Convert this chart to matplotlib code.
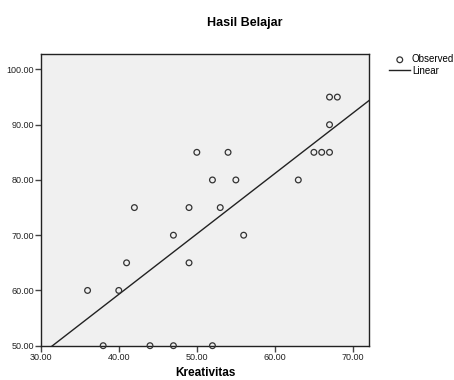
import matplotlib
matplotlib.use("Agg")
import matplotlib.pyplot as plt
import numpy as np

kreativitas = [36, 38, 40, 41, 42, 44, 47, 47, 49, 49, 50, 52, 52, 53, 54, 55, 56, 63, 65, 66, 67, 67, 67, 68]
hasil_belajar = [60, 50, 60, 65, 75, 50, 70, 50, 65, 75, 85, 80, 50, 75, 85, 80, 70, 80, 85, 85, 85, 90, 95, 95]
x_ticks = [30, 40, 50, 60, 70]
y_ticks = [50, 60, 70, 80, 90, 100]

plt.rcParams['font.family'] = ['Liberation Sans', 'DejaVu Sans']

fig = plt.figure(figsize=(4.54, 3.8), dpi=100)
ax = fig.add_axes([0.0897, 0.0903, 0.7238, 0.7676])
ax.set_facecolor('#f0f0f0')

x = np.array(kreativitas, dtype=float)
y = np.array(hasil_belajar, dtype=float)
slope, intercept = np.polyfit(x, y, 1)

xmin, xmax = 30, 72.1
ymin, ymax = 50, 102.8
xl = np.array([xmin, xmax])
line, = ax.plot(xl, intercept + slope * xl, color='#222222', lw=1.0, zorder=2, clip_on=True)
pts = ax.scatter(x, y, s=17, facecolors='none', edgecolors='#333333', linewidths=0.9, zorder=3, clip_on=False)

ax.set_xlim(xmin, xmax)
ax.set_ylim(ymin, ymax)
ax.set_xticks(x_ticks)
ax.set_xticklabels([f"{v:.2f}" for v in x_ticks])
ax.set_yticks(y_ticks)
ax.set_yticklabels([f"{v:.2f}" for v in y_ticks])
ax.tick_params(axis='both', direction='out', length=4, width=1, color='#444444', labelsize=6.5, labelcolor='#222222', pad=1)
for sp in ax.spines.values():
    sp.set_color('#222222')
    sp.set_linewidth(1.0)

fig.text(0.540, 0.940, "Hasil Belajar", ha='center', va='center', fontsize=9, fontweight='bold')
fig.text(0.452, 0.002, "Kreativitas", ha='center', va='bottom', fontsize=8.5, fontweight='bold')

leg = fig.legend([pts, line], ["Observed", "Linear"], loc='upper left', bbox_to_anchor=(0.857, 0.857),
                 frameon=False, fontsize=7, handlelength=2.2, handletextpad=0.15, labelspacing=0.15,
                 borderpad=0, borderaxespad=0)

fig.savefig("out.png", dpi=100)
